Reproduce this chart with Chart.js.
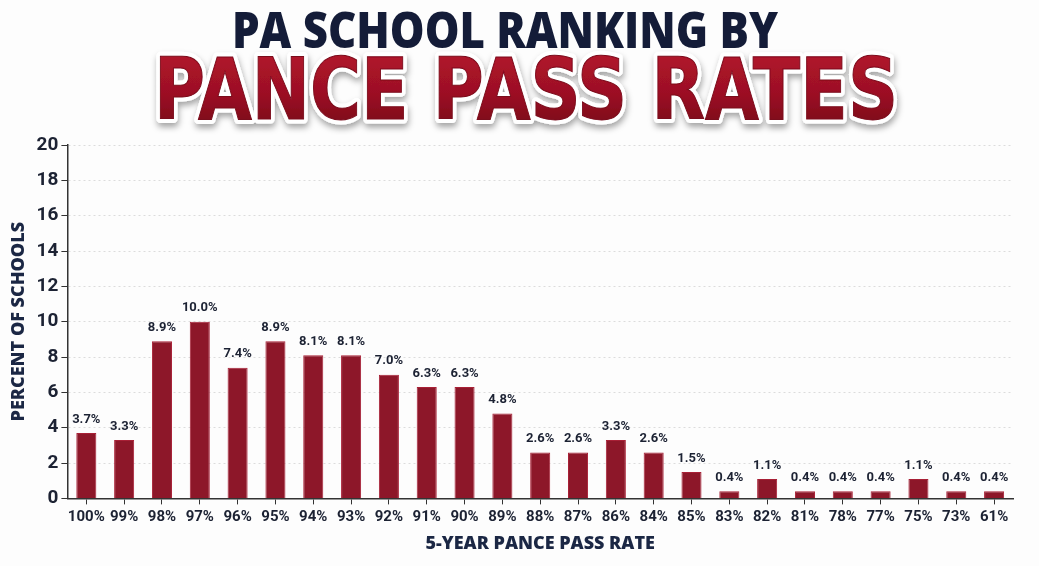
<!DOCTYPE html>
<html>
<head>
<meta charset="utf-8">
<script src="https://cdn.jsdelivr.net/npm/chart.js@4.4.0/dist/chart.umd.min.js"></script>
<style>
    html, body { margin: 0; padding: 0; background: #fdfdfd; }
    #wrap { position: relative; width: 1039px; height: 566px; overflow: hidden; }
    #chart { position: absolute; left: 0; top: 0; }
    #title { position: absolute; left: 0; top: 0; pointer-events: none; }
</style>
</head>
<body>
<div id="wrap">
    <canvas id="chart" width="1039" height="566"></canvas>
    <svg id="title" width="1039" height="135" xmlns="http://www.w3.org/2000/svg">
        <defs>
            <linearGradient id="redFill" x1="0" y1="0" x2="0" y2="1">
                <stop offset="0" stop-color="#b8162e"/>
                <stop offset="0.55" stop-color="#9c1024"/>
                <stop offset="1" stop-color="#6e0816"/>
            </linearGradient>
            <filter id="shadow" x="-5%" y="-20%" width="110%" height="150%">
                <feDropShadow dx="1" dy="4" stdDeviation="3" flood-color="#000" flood-opacity="0.35"/>
            </filter>
        </defs>
        <text x="505" y="48" text-anchor="middle" textLength="546" lengthAdjust="spacingAndGlyphs"
              font-family="'Open Sans', 'DejaVu Sans', sans-serif" font-weight="800" font-size="49"
              fill="#141c38">PA SCHOOL RANKING BY</text>
        <g filter="url(#shadow)">
            <text x="526" y="119" text-anchor="middle" textLength="744" lengthAdjust="spacingAndGlyphs"
                  font-family="'DejaVu Sans Condensed', 'Liberation Sans Narrow', sans-serif" font-weight="bold" font-size="86"
                  fill="#ffffff" stroke="#ffffff" stroke-width="9" stroke-linejoin="round">PANCE PASS RATES</text>
            <text x="526" y="119" text-anchor="middle" textLength="744" lengthAdjust="spacingAndGlyphs"
                  font-family="'DejaVu Sans Condensed', 'Liberation Sans Narrow', sans-serif" font-weight="bold" font-size="86"
                  fill="url(#redFill)" stroke="#7a0a1a" stroke-width="1">PANCE PASS RATES</text>
        </g>
    </svg>
</div>
<script>
// 5-year PANCE pass rate buckets and share of schools (%)
const passRates = ['100%', '99%', '98%', '97%', '96%', '95%', '94%', '93%', '92%', '91%', '90%', '89%',
    '88%', '87%', '86%', '84%', '85%', '83%', '82%', '81%', '78%', '77%', '75%', '73%', '61%'];
const schoolShare = [3.7, 3.3, 8.9, 10.0, 7.4, 8.9, 8.1, 8.1, 7.0, 6.3, 6.3, 4.8,
    2.6, 2.6, 3.3, 2.6, 1.5, 0.4, 1.1, 0.4, 0.4, 0.4, 1.1, 0.4, 0.4];
const yTicks = [0, 2, 4, 6, 8, 10, 12, 14, 16, 18, 20];

const navy = '#1b2744';
const ink = '#1c2233';
const narrow = "'Liberation Sans Narrow', 'Roboto', sans-serif";

// value labels above each bar
const barLabels = {
    id: 'barLabels',
    afterDatasetsDraw(chart) {
        const ctx = chart.ctx;
        const meta = chart.getDatasetMeta(0);
        ctx.save();
        ctx.font = 'bold 13px ' + narrow;
        ctx.fillStyle = ink;
        ctx.textAlign = 'center';
        ctx.textBaseline = 'bottom';
        meta.data.forEach((bar, i) => {
            ctx.fillText(schoolShare[i].toFixed(1) + '%', bar.x, bar.y - 7);
        });
        ctx.restore();
    }
};

new Chart(document.getElementById('chart'), {
    type: 'bar',
    data: {
        labels: passRates,
        datasets: [{
            data: schoolShare,
            backgroundColor: '#8d1729',
            borderColor: '#a82036',
            borderWidth: 1,
            barPercentage: 0.53,
            categoryPercentage: 1.0
        }]
    },
    options: {
        responsive: false,
        animation: false,
        layout: { padding: { top: 145, right: 26, bottom: 11, left: 8 } },
        plugins: {
            legend: { display: false },
            tooltip: { enabled: false }
        },
        scales: {
            x: {
                grid: {
                    offset: false,
                    drawOnChartArea: false,
                    drawTicks: true,
                    tickLength: 6,
                    tickColor: '#333'
                },
                border: { display: true, color: '#333', width: 1.5 },
                ticks: {
                    color: ink,
                    font: { family: narrow, size: 15, weight: 'bold' },
                    padding: 4,
                    maxRotation: 0,
                    autoSkip: false
                },
                title: {
                    display: true,
                    text: '5-YEAR PANCE PASS RATE',
                    color: navy,
                    font: { family: "'Open Sans', sans-serif", size: 18, weight: '800' },
                    padding: { top: 3, bottom: 0 }
                }
            },
            y: {
                min: 0,
                max: 20,
                afterBuildTicks(axis) {
                    axis.ticks = yTicks.map(v => ({ value: v }));
                },
                grid: {
                    color: '#dcdcdc',
                    tickColor: '#333',
                    tickLength: 6,
                    tickBorderDash: [],
                    lineWidth: 1
                },
                border: { display: true, color: '#333', width: 1.5, dash: [2, 3] },
                ticks: {
                    color: ink,
                    font: { family: narrow, size: 19, weight: 'bold' },
                    padding: 3
                },
                title: {
                    display: true,
                    text: 'PERCENT OF SCHOOLS',
                    color: navy,
                    font: { family: "'Open Sans', sans-serif", size: 18, weight: '800' },
                    padding: { top: 0, bottom: 4 }
                }
            }
        }
    },
    plugins: [barLabels]
});
</script>
</body>
</html>
